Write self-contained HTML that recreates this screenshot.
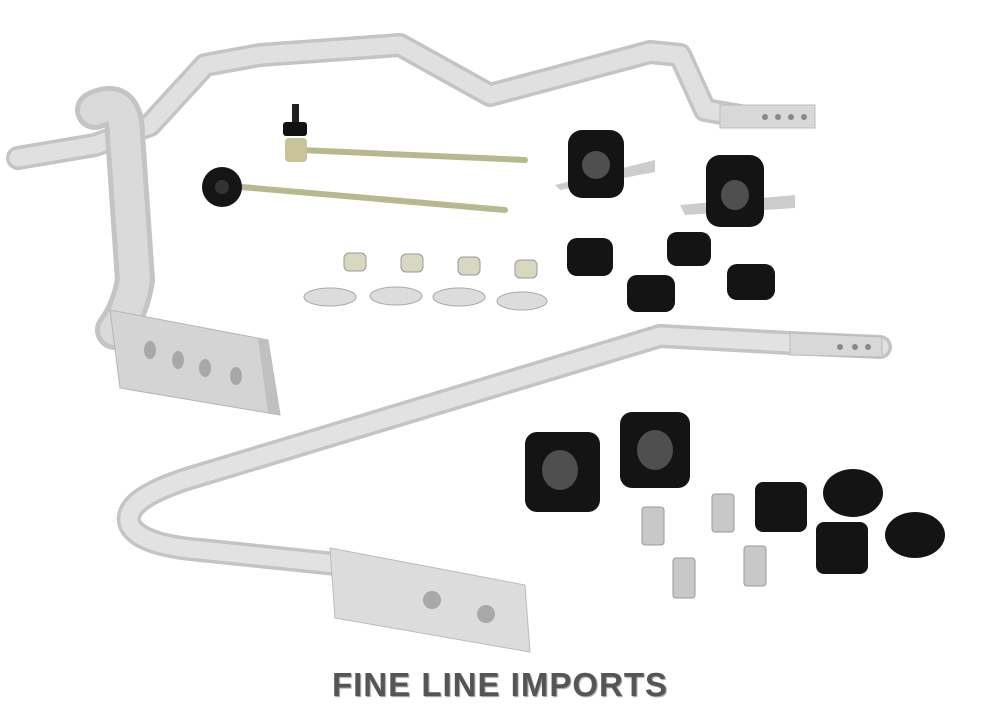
<!DOCTYPE html>
<html><head><style>
body{margin:0;background:#fff;width:1000px;height:715px;overflow:hidden;}
svg{position:absolute;left:0;top:0}
.t{position:absolute;left:300px;top:666px;width:400px;text-align:center;font-family:"Liberation Sans",sans-serif;font-weight:bold;font-size:33px;color:#555;letter-spacing:1px;text-shadow:1px 1px 1px #999}
</style></head><body>
<svg width="1000" height="715" viewBox="0 0 1000 715">
<g fill="none" stroke-linecap="round" stroke-linejoin="round">
<path d="M18 158 L95 145 L150 125 L205 65 L260 55 L400 45 L490 95 L650 52 L680 55 L705 110 L740 116" stroke="#c4c4c4" stroke-width="24"/>
<path d="M18 158 L95 145 L150 125 L205 65 L260 55 L400 45 L490 95 L650 52 L680 55 L705 110 L740 116" stroke="#e0e0e0" stroke-width="17"/>
<path d="M95 110 Q125 95 125 135 L135 280 Q130 310 115 330" stroke="#c4c4c4" stroke-width="40"/>
<path d="M95 110 Q125 95 125 135 L135 280 Q130 310 115 330" stroke="#dadada" stroke-width="30"/>
<path d="M880 347 L790 343 L660 336 L190 478 Q120 500 130 525 Q140 545 200 550 L345 565" stroke="#c4c4c4" stroke-width="24"/>
<path d="M880 347 L790 343 L660 336 L190 478 Q120 500 130 525 Q140 545 200 550 L345 565" stroke="#e2e2e2" stroke-width="17"/>
<path d="M300 150 L525 160" stroke="#b8b890" stroke-width="6"/>
<path d="M230 186 L505 210" stroke="#b8b890" stroke-width="6"/>
</g>
<polygon points="720,105 815,105 815,128 720,128" fill="#d8d8d8" stroke="#bbb"/>
<g fill="#888"><circle cx="765" cy="117" r="3"/><circle cx="778" cy="117" r="3"/><circle cx="791" cy="117" r="3"/><circle cx="804" cy="117" r="3"/></g>
<polygon points="790,333 882,337 882,357 790,355" fill="#d8d8d8" stroke="#bbb"/>
<g fill="#888"><circle cx="840" cy="347" r="3"/><circle cx="855" cy="347" r="3"/><circle cx="868" cy="347" r="3"/></g>
<polygon points="110,310 268,340 280,415 120,388" fill="#d4d4d4" stroke="#b5b5b5"/>
<polygon points="268,340 280,415 268,413 258,338" fill="#c0c0c0"/>
<g fill="#a8a8a8"><ellipse cx="150" cy="350" rx="6" ry="9"/><ellipse cx="178" cy="360" rx="6" ry="9"/><ellipse cx="205" cy="368" rx="6" ry="9"/><ellipse cx="236" cy="376" rx="6" ry="9"/></g>
<polygon points="330,548 525,585 530,652 335,618" fill="#dcdcdc" stroke="#bbb"/>
<g fill="#a8a8a8"><circle cx="432" cy="600" r="9"/><circle cx="486" cy="614" r="9"/></g>
<rect x="285" y="138" width="22" height="24" rx="4" fill="#c9c39a"/>
<rect x="292" y="104" width="7" height="22" fill="#222"/>
<rect x="283" y="122" width="24" height="14" rx="3" fill="#111"/>
<circle cx="222" cy="187" r="20" fill="#151515"/><circle cx="222" cy="187" r="7" fill="#333"/>
<g fill="#d8d8c0" stroke="#999"><rect x="344" y="253" width="22" height="18" rx="5"/><rect x="401" y="254" width="22" height="18" rx="5"/><rect x="458" y="257" width="22" height="18" rx="5"/><rect x="515" y="260" width="22" height="18" rx="5"/></g>
<g fill="#dcdcdc" stroke="#aaa"><ellipse cx="330" cy="297" rx="26" ry="9"/><ellipse cx="396" cy="296" rx="26" ry="9"/><ellipse cx="459" cy="297" rx="26" ry="9"/><ellipse cx="522" cy="301" rx="25" ry="9"/></g>
<g fill="#141414">
<polygon points="555,185 655,160 655,172 560,190" fill="#ccc"/>
<rect x="568" y="130" width="56" height="68" rx="14"/>
<polygon points="680,205 795,195 795,208 685,215" fill="#ccc"/>
<rect x="706" y="155" width="58" height="72" rx="14"/>
<rect x="567" y="238" width="46" height="38" rx="10"/>
<rect x="667" y="232" width="44" height="34" rx="10"/>
<rect x="627" y="275" width="48" height="37" rx="10"/>
<rect x="727" y="264" width="48" height="36" rx="10"/>
<rect x="525" y="432" width="75" height="80" rx="12"/>
<rect x="620" y="412" width="70" height="76" rx="12"/>
<rect x="755" y="482" width="52" height="50" rx="8"/>
<rect x="816" y="522" width="52" height="52" rx="8"/>
<ellipse cx="853" cy="493" rx="30" ry="24"/>
<ellipse cx="915" cy="535" rx="30" ry="23"/>
</g>
<g fill="#fff" opacity=".25"><ellipse cx="596" cy="165" rx="14" ry="14"/><ellipse cx="735" cy="195" rx="14" ry="15"/><ellipse cx="560" cy="470" rx="18" ry="20"/><ellipse cx="655" cy="450" rx="18" ry="20"/></g>
<g fill="#c8c8c8" stroke="#999"><rect x="642" y="507" width="22" height="38" rx="3"/><rect x="712" y="494" width="22" height="38" rx="3"/><rect x="673" y="558" width="22" height="40" rx="3"/><rect x="744" y="546" width="22" height="40" rx="3"/></g>
</svg>
<div class="t">FINE LINE IMPORTS</div>
</body></html>
